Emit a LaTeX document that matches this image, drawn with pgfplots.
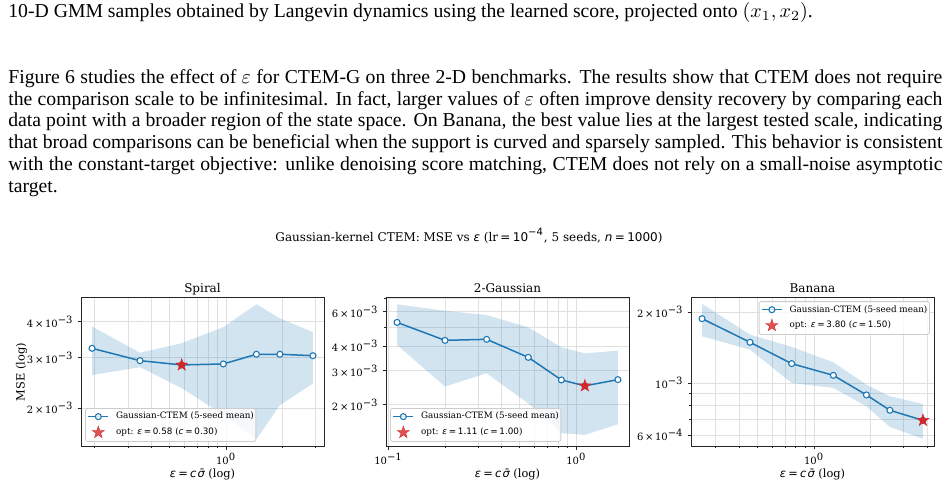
\documentclass[border=0pt]{standalone}
\usepackage{fontspec}
\setmainfont{Liberation Serif}
\newfontfamily\dser{DejaVu Serif}
\newfontfamily\dsan{DejaVu Sans}
\usepackage{pgfplots}
\pgfplotsset{compat=1.18}

\definecolor{tabblue}{HTML}{1F77B4}
\definecolor{tabred}{HTML}{D62728}
\definecolor{spine}{HTML}{262626}

% filled five-pointed star
\pgfdeclareplotmark{fstar}{%
  \pgfpathmoveto{\pgfqpoint{0pt}{\pgfplotmarksize}}%
  \pgfpathlineto{\pgfqpoint{-0.2245\pgfplotmarksize}{0.309\pgfplotmarksize}}%
  \pgfpathlineto{\pgfqpoint{-0.951\pgfplotmarksize}{0.309\pgfplotmarksize}}%
  \pgfpathlineto{\pgfqpoint{-0.3633\pgfplotmarksize}{-0.118\pgfplotmarksize}}%
  \pgfpathlineto{\pgfqpoint{-0.588\pgfplotmarksize}{-0.809\pgfplotmarksize}}%
  \pgfpathlineto{\pgfqpoint{0pt}{-0.382\pgfplotmarksize}}%
  \pgfpathlineto{\pgfqpoint{0.588\pgfplotmarksize}{-0.809\pgfplotmarksize}}%
  \pgfpathlineto{\pgfqpoint{0.3633\pgfplotmarksize}{-0.118\pgfplotmarksize}}%
  \pgfpathlineto{\pgfqpoint{0.951\pgfplotmarksize}{0.309\pgfplotmarksize}}%
  \pgfpathlineto{\pgfqpoint{0.2245\pgfplotmarksize}{0.309\pgfplotmarksize}}%
  \pgfpathclose
  \pgfusepathqfillstroke
}

\newcommand{\ms}[1]{{\dsan #1}}
\newcommand{\mi}[1]{{\dsan\itshape #1}}
\newcommand{\sci}[2]{#1\kern0.17em×\kern0.17em10\textsuperscript{#2}}
\newcommand{\fsz}[1]{\fontsize{#1}{#1}\selectfont}

\pgfplotsset{
  every axis/.append style={
    scale only axis, width=121.5pt, height=74.5pt,
    axis line style={spine, line width=0.4pt},
    tick style={spine, line width=0.4pt},
    tick align=outside, tick pos=left,
    major tick length=1.75pt, minor tick length=1pt,
    grid=both,
    major grid style={black!12, line width=0.4pt},
    minor grid style={black!12, line width=0.4pt},
    ticklabel style={font=\dser\fsz{5}},
    xticklabel style={inner sep=0pt, yshift=-1.75pt},
    yticklabel style={inner sep=0pt, xshift=-1.75pt},
    legend cell align=left,
    legend style={font=\dser\fsz{4.4}, draw=black!20, line width=0.4pt,
      fill=white, fill opacity=0.8, text opacity=1, rounded corners=1pt,
      inner xsep=1pt, inner ysep=1.9pt, row sep=2.55pt, column sep=3.5pt,
      nodes={inner sep=0pt, text height=3.3pt, text depth=1pt}},
    legend image code/.code={\draw[mark repeat=2,mark phase=2,##1]
      plot coordinates {(0pt,0pt) (5pt,0pt) (10pt,0pt)};},
  },
  ctband/.style={draw=none, fill=tabblue, fill opacity=0.2, forget plot},
  ctmean/.style={tabblue, line width=0.75pt, mark=*, mark size=1.5pt,
    mark options={fill=white, draw=tabblue, line width=0.55pt}},
  ctopt/.style={only marks, mark=fstar, mark size=3.2pt, tabred,
    mark options={fill=tabred, draw=tabred, line width=0.2pt}},
}

\begin{document}
\begin{tikzpicture}
\path[use as bounding box] (0pt,0pt) rectangle (474.5pt,244.5pt);

% text placed on a 0.5pt grid measured from the top-left corner
\begin{scope}[x=0.5pt, y=-0.5pt, shift={(0pt,244.5pt)}]
\begin{scope}[every node/.style={anchor=base west, inner sep=0pt, font=\fontsize{9.85}{11}\selectfont}]
\node at (8,17.5) {10-D GMM samples obtained by Langevin dynamics using the learned score, projected onto $(x_1, x_2)$.};
\node at (8,83.5) {\makebox[467pt][s]{Figure 6 studies the effect of $\varepsilon$ for CTEM-G on three 2-D benchmarks. The results show that CTEM does not require}};
\node at (8,105.2) {\makebox[467pt][s]{the comparison scale to be infinitesimal. In fact, larger values of $\varepsilon$ often improve density recovery by comparing each}};
\node at (8,126.9) {\makebox[467pt][s]{data point with a broader region of the state space. On Banana, the best value lies at the largest tested scale, indicating}};
\node at (8,148.6) {\makebox[467pt][s]{that broad comparisons can be beneficial when the support is curved and sparsely sampled. This behavior is consistent}};
\node at (8,170.3) {\makebox[467pt][s]{with the constant-target objective: unlike denoising score matching, CTEM does not rely on a small-noise asymptotic}};
\node at (8,192) {target.};
\end{scope}

\node[anchor=base, inner sep=0pt, font=\dser\fsz{6}] at (469,241)
  {Gaussian-kernel CTEM: MSE vs \mi{ε} (lr\kern0.2em\ms{=}\kern0.2em\ms{10\textsuperscript{−4}}, 5 seeds, \mi{n}\kern0.2em\ms{=}\kern0.2em\ms{1000})};
\node[anchor=base, inner sep=0pt, font=\dser\fsz{6}] at (202.5,292.5) {Spiral};
\node[anchor=base, inner sep=0pt, font=\dser\fsz{6}] at (507.5,292.5) {2-Gaussian};
\node[anchor=base, inner sep=0pt, font=\dser\fsz{6}] at (812.5,292.5) {Banana};
\node[anchor=base, inner sep=0pt, font=\dser\fsz{5.7}] at (202.5,477)
  {\mi{ε}\kern0.2em\ms{=}\kern0.2em\mi{c}\kern0.1em\mi{σ̄} (log)};
\node[anchor=base, inner sep=0pt, font=\dser\fsz{5.7}] at (507.5,477)
  {\mi{ε}\kern0.2em\ms{=}\kern0.2em\mi{c}\kern0.1em\mi{σ̄} (log)};
\node[anchor=base, inner sep=0pt, font=\dser\fsz{5.7}] at (812.5,477)
  {\mi{ε}\kern0.2em\ms{=}\kern0.2em\mi{c}\kern0.1em\mi{σ̄} (log)};
\node[rotate=90, inner sep=0pt, font=\dser\fsz{5.7}] at (21.5,372) {MSE (log)};
\end{scope}

% ---- Spiral ----
\begin{axis}[xmode=log, ymode=log, at={(40.5pt,21.5pt)}, anchor=south west,
  xmin=0.1688, xmax=3.321, ymin=1.479e-3, ymax=4.875e-3,
  xtick={1}, xticklabels={10\textsuperscript{0}},
  minor xtick={0.2,0.3,0.4,0.5,0.6,0.7,0.8,0.9,2,3},
  ytick={0.002,0.003,0.004},
  yticklabels={\sci{2}{−3},\sci{3}{−3},\sci{4}{−3}},
  legend style={at={(0,0)}, anchor=south west, xshift=2.1pt, yshift=2.1pt}]
\addplot[ctband] coordinates {
  (0.1933,3.85e-3) (0.348,3.12e-3) (0.58,3.37e-3) (0.9667,3.83e-3)
  (1.45,4.60e-3) (1.9333,4.11e-3) (2.9,3.68e-3)
  (2.9,2.44e-3) (1.9333,2.05e-3) (1.45,1.56e-3) (0.9667,1.90e-3)
  (0.58,2.35e-3) (0.348,2.78e-3) (0.1933,2.61e-3)};
\addplot[ctmean] coordinates {
  (0.1933,3.233e-3) (0.348,2.929e-3) (0.58,2.830e-3) (0.9667,2.853e-3)
  (1.45,3.083e-3) (1.9333,3.083e-3) (2.9,3.048e-3)};
\addlegendentry{Gaussian-CTEM (5-seed mean)}
\addplot[ctopt] coordinates {(0.58,2.830e-3)};
\addlegendentry{opt: \mi{ε}\kern0.2em\ms{=}\kern0.2em\ms{0.58} (\mi{c}\kern0.2em\ms{=}\kern0.2em\ms{0.30})}
\end{axis}

% ---- 2-Gaussian ----
\begin{axis}[xmode=log, ymode=log, at={(193pt,21.5pt)}, anchor=south west,
  xmin=0.09693, xmax=1.9066, ymin=1.228e-3, ymax=7.14e-3,
  xtick={0.1,1}, xticklabels={10\textsuperscript{−1},10\textsuperscript{0}},
  minor xtick={0.2,0.3,0.4,0.5,0.6,0.7,0.8,0.9},
  ytick={0.002,0.003,0.004,0.006},
  yticklabels={\sci{2}{−3},\sci{3}{−3},\sci{4}{−3},\sci{6}{−3}},
  minor ytick={0.005,0.007},
  legend style={at={(0,0)}, anchor=south west, xshift=2.1pt, yshift=2.1pt}]
\addplot[ctband] coordinates {
  (0.111,6.55e-3) (0.1998,6.07e-3) (0.333,5.77e-3) (0.555,4.99e-3)
  (0.8325,3.94e-3) (1.11,3.67e-3) (1.665,3.79e-3)
  (1.665,1.59e-3) (1.11,1.40e-3) (0.8325,1.43e-3) (0.555,2.03e-3)
  (0.333,2.90e-3) (0.1998,2.48e-3) (0.111,4.05e-3)};
\addplot[ctmean] coordinates {
  (0.111,5.29e-3) (0.1998,4.28e-3) (0.333,4.33e-3) (0.555,3.50e-3)
  (0.8325,2.68e-3) (1.11,2.50e-3) (1.665,2.69e-3)};
\addlegendentry{Gaussian-CTEM (5-seed mean)}
\addplot[ctopt] coordinates {(1.11,2.50e-3)};
\addlegendentry{opt: \mi{ε}\kern0.2em\ms{=}\kern0.2em\ms{1.11} (\mi{c}\kern0.2em\ms{=}\kern0.2em\ms{1.00})}
\end{axis}

% ---- Banana ----
\begin{axis}[xmode=log, ymode=log, at={(345.5pt,21.5pt)}, anchor=south west,
  xmin=0.2212, xmax=4.351, ymin=5.39e-4, ymax=2.32e-3,
  xtick={1}, xticklabels={10\textsuperscript{0}},
  minor xtick={0.3,0.4,0.5,0.6,0.7,0.8,0.9,2,3,4},
  ytick={0.0006,0.001,0.002},
  yticklabels={\sci{6}{−4},10\textsuperscript{−3},\sci{2}{−3}},
  minor ytick={0.0007,0.0008,0.0009},
  legend style={at={(1,1)}, anchor=north east, xshift=-2.1pt, yshift=-2.1pt}]
\addplot[ctband] coordinates {
  (0.2533,2.169e-3) (0.456,1.605e-3) (0.76,1.423e-3) (1.2667,1.224e-3)
  (1.9,0.983e-3) (2.5333,0.877e-3) (3.8,0.814e-3)
  (3.8,0.578e-3) (2.5333,0.650e-3) (1.9,0.795e-3) (1.2667,0.952e-3)
  (0.76,1.000e-3) (0.456,1.386e-3) (0.2533,1.579e-3)};
\addplot[ctmean] coordinates {
  (0.2533,1.877e-3) (0.456,1.489e-3) (0.76,1.208e-3) (1.2667,1.077e-3)
  (1.9,0.889e-3) (2.5333,0.765e-3) (3.8,0.693e-3)};
\addlegendentry{Gaussian-CTEM (5-seed mean)}
\addplot[ctopt] coordinates {(3.8,0.693e-3)};
\addlegendentry{opt: \mi{ε}\kern0.2em\ms{=}\kern0.2em\ms{3.80} (\mi{c}\kern0.2em\ms{=}\kern0.2em\ms{1.50})}
\end{axis}
\end{tikzpicture}
\end{document}
